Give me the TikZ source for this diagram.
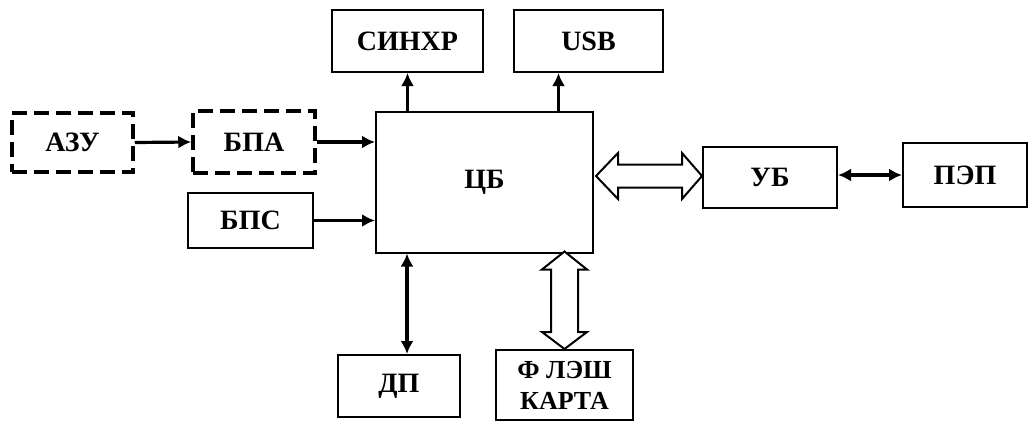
\documentclass[tikz,border=0pt]{standalone}
\usepackage{fontspec}
\setmainfont{Liberation Serif}
\usetikzlibrary{arrows.meta,calc}
\begin{document}
\begin{tikzpicture}[x=1pt,y=-1pt,
  box/.style={draw, line width=2pt, rectangle, inner sep=0pt, align=center,
    font=\fontsize{28}{30}\selectfont\bfseries},
  dbox/.style={box, line width=3.5pt, dash pattern=on 15pt off 7pt},
  arr/.style={line width=3.2pt, -{Latex[length=13pt,width=13pt]}},
  darr/.style={line width=3.2pt, {Latex[length=13pt,width=13pt]}-{Latex[length=13pt,width=13pt]}},
  hollow/.style={draw, line width=2pt, fill=white, line join=miter}]
\useasboundingbox (0,0) rectangle (1029,423);

\node[dbox, minimum width=121pt, minimum height=59pt] (azu) at (72.5,142.5) {АЗУ};
\node[dbox, minimum width=122pt, minimum height=62pt] (bpa) at (254,142) {БПА};
\node[box, minimum width=125pt, minimum height=55pt] (bps) at (250.5,220.5) {БПС};
\node[box, minimum width=217pt, minimum height=141pt] (cb) at (484.5,182) {ЦБ};
\node[box, minimum width=151pt, minimum height=62pt] (sinhr) at (407.5,41) {СИНХР};
\node[box, minimum width=149pt, minimum height=62pt] (usb) at (588.5,41) {USB};
\node[box, minimum width=122pt, minimum height=62pt] (dp) at (399,386) {ДП};
\node[box, minimum width=137pt, minimum height=70pt, font=\fontsize{26}{31}\selectfont\bfseries] (flash) at (564.5,385) {Ф ЛЭШ\\КАРТА};
\node[box, minimum width=134pt, minimum height=61pt] (ub) at (770,177.5) {УБ};
\node[box, minimum width=124pt, minimum height=64pt] (pep) at (965,175) {ПЭП};

% single-line connectors
\draw[arr] (azu.east) -- (bpa.west);
\draw[arr] (bpa.east) -- (bpa.east -| cb.west);
\draw[arr] (bps.east) -- (bps.east -| cb.west);
\draw[arr] (sinhr.south |- cb.north) -- (sinhr.south);
\draw[arr] ([xshift=-30pt]usb.south |- cb.north) -- ([xshift=-30pt]usb.south);
\draw[darr] ([xshift=8pt]dp.north |- cb.south) -- ([xshift=8pt]dp.north);
\draw[darr] (ub.east |- pep.west) -- (pep.west);

% hollow double arrow CB <-> UB
\coordinate (h1) at ([xshift=2pt]cb.east |- 0,176);
\coordinate (h2) at (ub.west |- 0,176);
\draw[hollow] (h1) -- ($(h1)+(22,-23)$) -- ($(h1)+(22,-11.5)$) -- ($(h2)+(-20,-11.5)$)
  -- ($(h2)+(-20,-23)$) -- (h2) -- ($(h2)+(-20,23)$) -- ($(h2)+(-20,11.5)$)
  -- ($(h1)+(22,11.5)$) -- ($(h1)+(22,23)$) -- cycle;

% hollow double arrow CB <-> FLASH
\coordinate (v1) at ([yshift=2pt]flash.north |- cb.south);
\coordinate (v2) at (flash.north);
\draw[hollow] (v1) -- ($(v1)+(22.5,18)$) -- ($(v1)+(13.5,18)$) -- ($(v2)+(13.5,-17)$)
  -- ($(v2)+(22.5,-17)$) -- (v2) -- ($(v2)+(-22.5,-17)$) -- ($(v2)+(-13.5,-17)$)
  -- ($(v1)+(-13.5,18)$) -- ($(v1)+(-22.5,18)$) -- cycle;
\end{tikzpicture}
\end{document}
